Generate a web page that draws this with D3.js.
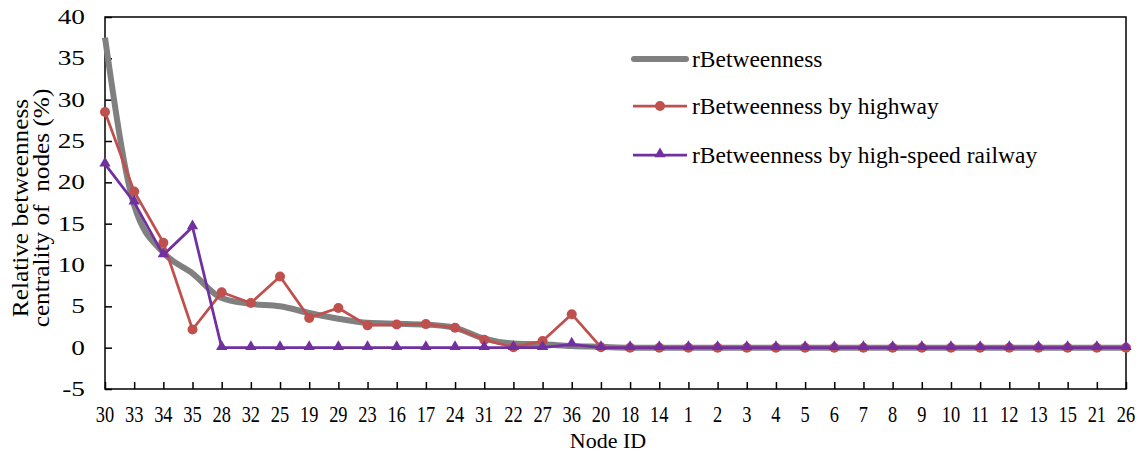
<!DOCTYPE html>
<html>
<head>
<meta charset="utf-8">
<script src="https://cdn.jsdelivr.net/npm/d3@7"></script>
<style>
  body { margin: 0; background: #fff; }
  svg text { font-family: "Liberation Serif", "Times New Roman", serif; fill: #000; }
</style>
</head>
<body>
<div id="chart"></div>
<script>
// node IDs along the x axis (sorted by rBetweenness)
const nodeIds = ['30','33','34','35','28','32','25','19','29','23','16','17','24','31','22','27','36','20','18','14',
                 '1','2','3','4','5','6','7','8','9','10','11','12','13','15','21','26'];

const rBetweenness = [37.5, 17.2, 11.5, 9.0, 6.0, 5.3, 5.0, 4.2, 3.5, 3.0, 2.9, 2.8, 2.4, 1.1, 0.5, 0.4, 0.2, 0.1, 0, 0,
                      0, 0, 0, 0, 0, 0, 0, 0, 0, 0, 0, 0, 0, 0, 0, 0];
const rHighway = [28.5, 18.9, 12.7, 2.2, 6.7, 5.4, 8.6, 3.6, 4.8, 2.7, 2.8, 2.85, 2.4, 0.95, 0.05, 0.8, 4.05, 0.05, 0, 0,
                  0, 0, 0, 0, 0, 0, 0, 0, 0, 0, 0, 0, 0, 0, 0, 0];
const rRailway = [22.2, 17.6, 11.2, 14.6, 0, 0, 0, 0, 0, 0, 0, 0, 0, 0, 0, 0, 0.4, 0, 0, 0,
                  0, 0, 0, 0, 0, 0, 0, 0, 0, 0, 0, 0, 0, 0, 0, 0];

const yTicks = [-5, 0, 5, 10, 15, 20, 25, 30, 35, 40];
const seriesNames = ['rBetweenness', 'rBetweenness by highway', 'rBetweenness by high-speed railway'];

const width = 1140, height = 452;
const margin = {top: 17, right: 14, bottom: 63, left: 105};

const svg = d3.select('#chart').append('svg')
    .attr('width', width)
    .attr('height', height);

const x = d3.scalePoint()
    .domain(nodeIds)
    .range([margin.left, width - margin.right]);

const y = d3.scaleLinear()
    .domain([-5, 40])
    .range([height - margin.bottom, margin.top]);

const gray = '#808080', red = '#C0504D', purple = '#7030A0';

// frame
svg.append('rect')
    .attr('x', margin.left).attr('y', margin.top)
    .attr('width', width - margin.right - margin.left)
    .attr('height', height - margin.bottom - margin.top)
    .attr('fill', 'none')
    .attr('stroke', '#000')
    .attr('stroke-width', 1.5);

// y axis (ticks pointing inward)
const yAxis = svg.append('g')
    .attr('transform', 'translate(' + margin.left + ',0)')
    .call(d3.axisRight(y).tickValues(yTicks).tickSize(7).tickFormat(''));
yAxis.select('.domain').remove();
yAxis.selectAll('line').attr('stroke-width', 1.5);

svg.append('g').selectAll('text')
    .data(yTicks)
    .join('text')
    .attr('transform', d => 'translate(85,' + (y(d) + 7) + ') scale(1.3,1)')
    .attr('text-anchor', 'end')
    .style('font-size', '21px')
    .text(d => d);

// x axis (ticks pointing up)
const xAxis = svg.append('g')
    .attr('transform', 'translate(0,' + (height - margin.bottom) + ')')
    .call(d3.axisTop(x).tickSize(7).tickFormat(''));
xAxis.select('.domain').remove();
xAxis.selectAll('line').attr('stroke-width', 1.5);

svg.append('g').selectAll('text')
    .data(nodeIds)
    .join('text')
    .attr('transform', d => 'translate(' + x(d) + ',422) scale(0.8,1)')
    .attr('text-anchor', 'middle')
    .style('font-size', '23px')
    .text(d => d);

svg.append('text')
    .attr('x', 608).attr('y', 448)
    .attr('text-anchor', 'middle')
    .style('font-size', '22px')
    .text('Node ID');

// y title, two lines
const yTitle = svg.append('text')
    .attr('transform', 'translate(0,208) rotate(-90) scale(1.1,1)')
    .attr('text-anchor', 'middle')
    .style('font-size', '23px');
yTitle.append('tspan').attr('x', 0).attr('y', 28).text('Relative betweenness');
yTitle.append('tspan').attr('x', 0).attr('y', 49).attr('xml:space', 'preserve').text('centrality of  nodes (%)');

// lines
const smooth = d3.line()
    .x((d, i) => x(nodeIds[i]))
    .y(d => y(d))
    .curve(d3.curveMonotoneX);
const straight = d3.line()
    .x((d, i) => x(nodeIds[i]))
    .y(d => y(d));

svg.append('path')
    .datum(rBetweenness)
    .attr('d', smooth)
    .attr('fill', 'none')
    .attr('stroke', gray)
    .attr('stroke-width', 6)
    .attr('stroke-linejoin', 'round');

svg.append('path')
    .datum(rHighway)
    .attr('d', straight)
    .attr('fill', 'none')
    .attr('stroke', red)
    .attr('stroke-width', 2.75);
svg.append('g').selectAll('circle')
    .data(rHighway)
    .join('circle')
    .attr('cx', (d, i) => x(nodeIds[i]))
    .attr('cy', d => y(d))
    .attr('r', 5)
    .attr('fill', red);

svg.append('path')
    .datum(rRailway)
    .attr('d', straight)
    .attr('fill', 'none')
    .attr('stroke', purple)
    .attr('stroke-width', 2.75);
const tri = d3.symbol(d3.symbolTriangle).size(55);
svg.append('g').selectAll('path')
    .data(rRailway)
    .join('path')
    .attr('d', tri)
    .attr('transform', (d, i) => 'translate(' + x(nodeIds[i]) + ',' + (y(d) - 1) + ')')
    .attr('fill', purple);

// legend
const legendRows = [59, 106, 155];
const legend = svg.append('g');
legend.append('line')
    .attr('x1', 634).attr('x2', 686).attr('y1', legendRows[0]).attr('y2', legendRows[0])
    .attr('stroke', gray).attr('stroke-width', 6).attr('stroke-linecap', 'round');
legend.append('line')
    .attr('x1', 633).attr('x2', 687).attr('y1', legendRows[1]).attr('y2', legendRows[1])
    .attr('stroke', red).attr('stroke-width', 2.75);
legend.append('circle')
    .attr('cx', 660).attr('cy', legendRows[1]).attr('r', 5).attr('fill', red);
legend.append('line')
    .attr('x1', 633).attr('x2', 687).attr('y1', legendRows[2]).attr('y2', legendRows[2])
    .attr('stroke', purple).attr('stroke-width', 2.75);
legend.append('path')
    .attr('d', tri)
    .attr('transform', 'translate(660,' + (legendRows[2] - 1) + ')')
    .attr('fill', purple);

legend.selectAll('text.lbl')
    .data(seriesNames)
    .join('text')
    .attr('class', 'lbl')
    .attr('x', 692)
    .attr('y', (d, i) => legendRows[i] + 7.5)
    .style('font-size', '23.5px')
    .text(d => d);
</script>
</body>
</html>
